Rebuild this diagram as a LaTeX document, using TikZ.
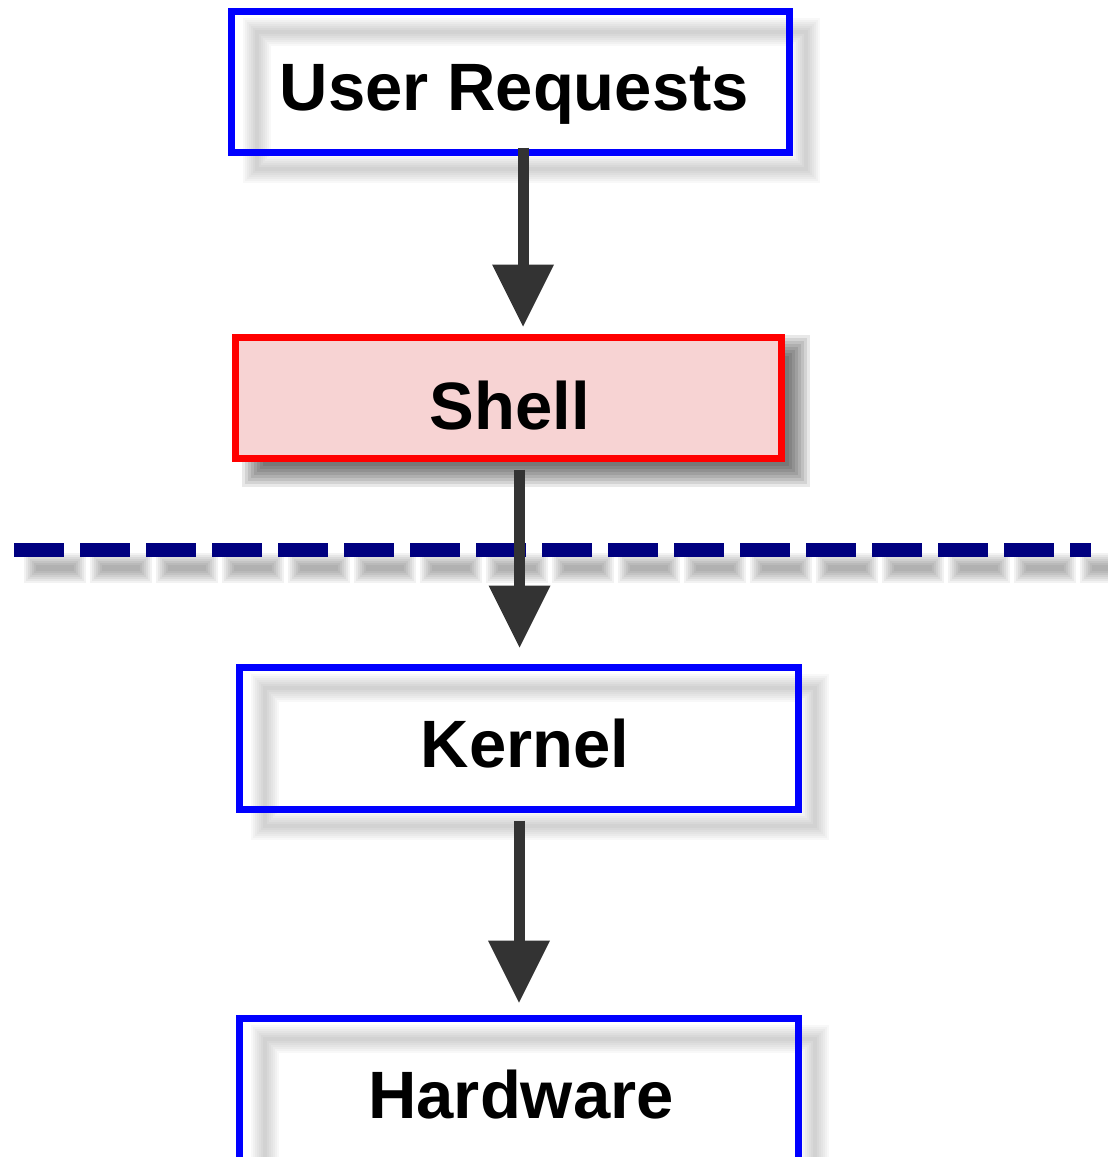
\documentclass[tikz,border=0pt]{standalone}
\usepackage{fontspec}
\setmainfont{Liberation Sans}
\usetikzlibrary{arrows.meta,calc}
\definecolor{boxblue}{HTML}{0000FF}
\definecolor{boxred}{HTML}{FF0000}
\definecolor{shellpink}{HTML}{F7D3D3}
\definecolor{linenavy}{HTML}{000080}
\definecolor{arrowgray}{HTML}{333333}
\tikzset{
  bluebox/.style={draw=boxblue, line width=7pt, rectangle, inner sep=0pt},
  redbox/.style={draw=boxred, fill=shellpink, line width=7pt, rectangle, inner sep=0pt},
  lbl/.style={anchor=base, inner sep=0pt, font=\fontsize{67pt}{80pt}\selectfont\bfseries},
  arr/.style={draw=arrowgray, line width=11pt, -{Triangle[length=62pt,width=62pt,line width=0pt]}},
  sepline/.style={draw=linenavy, line width=14pt, dash pattern=on 50pt off 16pt},
  frameshade/.style={draw=black, opacity=0.028},
  fillshade/.style={fill=black, opacity=0.09},
  lineshade/.style={draw=black, opacity=0.05}
}
\begin{document}
\begin{tikzpicture}[x=1pt,y=-1pt]
\useasboundingbox (0,0) rectangle (1108,1157);
\clip (0,0) rectangle (1108,1157);
% shadows of the frames
\foreach \w in {4,8,...,28} {
  \draw[frameshade, line width=\w pt] (257,32) rectangle (806,169);
  \draw[frameshade, line width=\w pt] (265,688) rectangle (815,826);
  \draw[frameshade, line width=\w pt] (265,1039) rectangle (815,1177);
}
% shadow of the shell box
\foreach \k in {0,...,7} {
  \fill[fillshade] ({254-12+3*\k},{347-12+3*\k}) rectangle ({798+12-3*\k},{475+12-3*\k});
}
% boxes
\node[bluebox, minimum width=558pt, minimum height=141pt] (ur) at (510.5,82) {};
\node[redbox, minimum width=546pt, minimum height=121pt] (sh) at (508.5,398) {};
\node[bluebox, minimum width=559pt, minimum height=142pt] (kn) at (519,738.5) {};
\node[bluebox, minimum width=559pt, minimum height=142pt] (hw) at (519,1089.5) {};
% separator line
\coordinate (dl) at (14,550);
\coordinate (dr) at (1091,550);
\foreach \k in {0,...,6} {
  \pgfmathsetmacro{\won}{62-4*\k}
  \pgfmathsetmacro{\woff}{66-\won}
  \pgfmathsetmacro{\wph}{(\won-50)/2+58}
  \pgfmathsetmacro{\wlw}{30-4*\k}
  \draw[lineshade, line width=\wlw pt, dash pattern=on \won pt off \woff pt, dash phase=\wph pt]
    ([shift={(8pt,-18pt)}]dl) -- ([shift={(40pt,-18pt)}]dr);
}
\draw[sepline] (dl) -- (dr);
% arrows
\coordinate (a1s) at ([xshift=12.5pt,yshift=8.5pt]ur.south);
\coordinate (a2s) at ([xshift=11pt,yshift=-7.5pt]sh.south);
\coordinate (a3s) at ([yshift=-7.5pt]kn.south);
\draw[arr, shorten >=7.5pt] (a1s) -- (a1s |- sh.north);
\draw[arr, shorten >=16.5pt] (a2s) -- (a2s |- kn.north);
\draw[arr, shorten >=12.5pt] (a3s) -- (a3s |- hw.north);
% labels
\node[lbl] (urt) at (514.5,110) {User Requests};
\node[lbl] (sht) at (510,429) {Shell};
\node[lbl] (knt) at (525,767) {Kernel};
\node[lbl] (hwt) at (521,1118) {Hardware};
\end{tikzpicture}
\end{document}
